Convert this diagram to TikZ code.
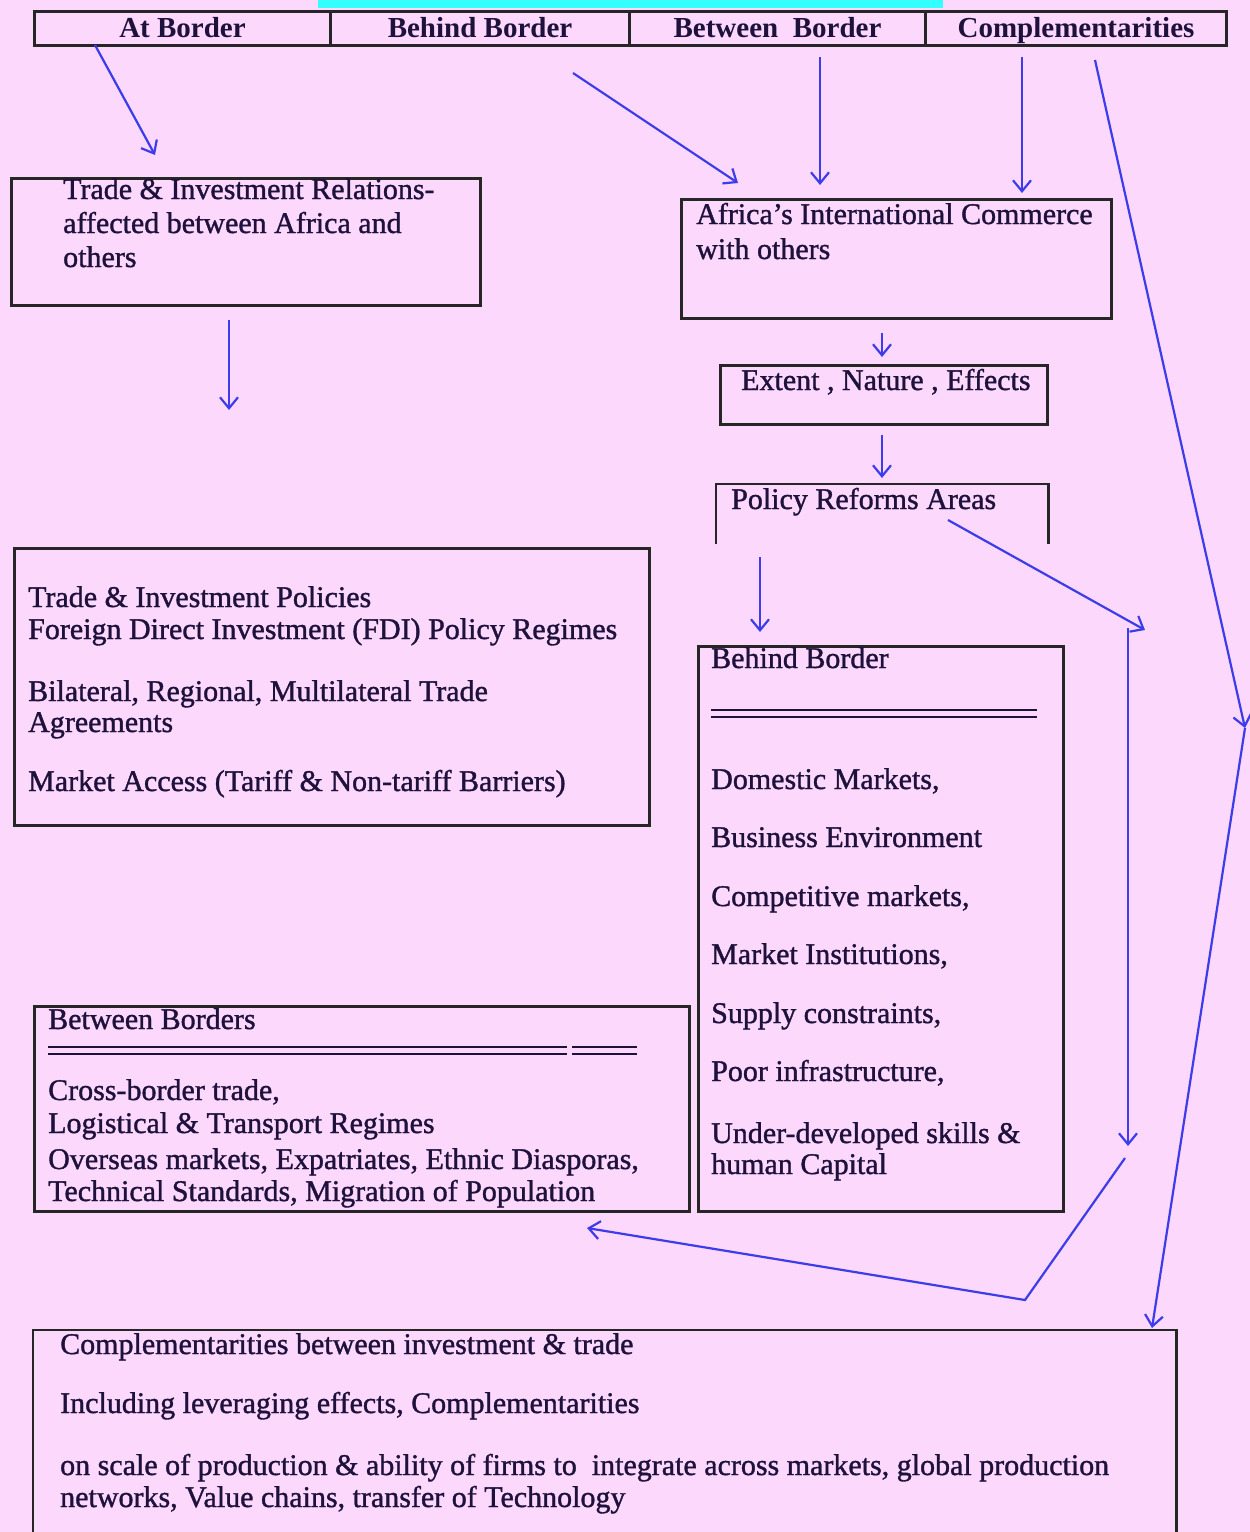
\documentclass[tikz,border=0pt]{standalone}
\usepackage{fontspec}
\setmainfont{Liberation Serif}
\newfontfamily\inkfont{Liberation Serif}[FakeBold=1.2]
\usetikzlibrary{arrows.meta}
\definecolor{bg}{RGB}{252,216,252}
\definecolor{ink}{RGB}{30,18,60}
\definecolor{arr}{RGB}{60,60,235}
\definecolor{cyanbar}{RGB}{51,255,255}
\begin{document}
\begin{tikzpicture}[x=1pt,y=-1pt,
 boxs/.style={draw=black!85, line width=2.5pt, inner sep=0pt, anchor=north west},
 txt/.style={anchor=base west, inner sep=0pt, text=ink, font=\inkfont\fontsize{30}{36}\selectfont},
 hdr/.style={draw=black!85, line width=3pt, inner sep=0pt, minimum height=34pt, text height=21pt, text depth=4pt, anchor=north west, font=\bfseries\fontsize{29}{34}\selectfont, text=ink},
 conn/.style={draw=arr, line width=2.2pt, -{Straight Barb[length=11pt,width=18pt]}},
 dline/.style={draw=ink, line width=2pt}
]
\useasboundingbox[fill=bg] (0,0) rectangle (1250,1532);
\fill[cyanbar] (318,0) rectangle (943,8);

% header
\node[hdr, minimum width=296pt] (hA) at (33,10) {At Border};
\node[hdr, minimum width=299pt] (hB) at (329,10) {Behind Border};
\node[hdr, minimum width=296pt] (hC) at (628,10) {Between\ \ Border};
\node[hdr, minimum width=301pt] (hD) at (924,10) {Complementarities};

% box 1
\node[boxs, minimum width=469pt, minimum height=127pt] (b1) at (10,177) {};
\node[txt] (b1a) at (63,199) {Trade \& Investment Relations-};
\node[txt] (b1b) at (63,233) {affected between Africa and};
\node[txt] (b1c) at (63,267) {others};

% box 2
\node[boxs, minimum width=430pt, minimum height=119pt] (b2) at (680,198) {};
\node[txt] (b2a) at (696,224) {Africa’s International Commerce};
\node[txt] (b2b) at (696,259) {with others};

% box 3
\node[boxs, minimum width=327pt, minimum height=59pt] (b3) at (719,364) {};
\node[txt] (b3a) at (741,390) {Extent , Nature , Effects};

% box 4 (open bottom)
\node[inner sep=0pt, minimum width=332pt, minimum height=60pt, anchor=north west] (b4) at (716,484) {};
\draw[draw=black!85, line width=2.5pt] (b4.south west) -- (b4.north west) -- (b4.north east) -- (b4.south east);
\node[txt] (b4a) at (731,509) {Policy Reforms Areas};

% box 5
\node[boxs, minimum width=635pt, minimum height=277pt] (b5) at (13,547) {};
\node[txt] (b5a) at (28,607) {Trade \& Investment Policies};
\node[txt] (b5b) at (28,639) {Foreign Direct Investment (FDI) Policy Regimes};
\node[txt] (b5c) at (28,701) {Bilateral, Regional, Multilateral Trade};
\node[txt] (b5d) at (28,732) {Agreements};
\node[txt] (b5e) at (28,791) {Market Access (Tariff \& Non-tariff Barriers)};

% box 6
\node[boxs, minimum width=365pt, minimum height=565pt] (b6) at (697,645) {};
\node[txt] (b6a) at (711,668) {Behind Border};
\draw[dline] (711,710) -- (1037,710);
\draw[dline] (711,717) -- (1037,717);
\node[txt] (b6b) at (711,789) {Domestic Markets,};
\node[txt] (b6c) at (711,847) {Business Environment};
\node[txt] (b6d) at (711,906) {Competitive markets,};
\node[txt] (b6e) at (711,964) {Market Institutions,};
\node[txt] (b6f) at (711,1023) {Supply constraints,};
\node[txt] (b6g) at (711,1081) {Poor infrastructure,};
\node[txt] (b6h) at (711,1143) {Under-developed skills \&};
\node[txt] (b6i) at (711,1174) {human Capital};

% box 7
\node[boxs, minimum width=655pt, minimum height=205pt] (b7) at (33,1005) {};
\node[txt] (b7a) at (48,1029) {Between Borders};
\draw[dline] (48,1047) -- (567,1047) (572,1047) -- (637,1047);
\draw[dline] (48,1054) -- (567,1054) (572,1054) -- (637,1054);
\node[txt] (b7b) at (48,1100) {Cross-border trade,};
\node[txt] (b7c) at (48,1133) {Logistical \& Transport Regimes};
\node[txt] (b7d) at (48,1169) {Overseas markets, Expatriates, Ethnic Diasporas,};
\node[txt] (b7e) at (48,1201) {Technical Standards, Migration of Population};

% box 8 (runs off the bottom)
\node[inner sep=0pt, minimum width=1143pt, minimum height=210pt, anchor=north west] (b8) at (33,1330) {};
\draw[draw=black!85, line width=2.5pt] (b8.south west) -- (b8.north west) -- (b8.north east) -- (b8.south east);
\node[txt] (b8a) at (60,1354) {Complementarities between investment \& trade};
\node[txt] (b8b) at (60,1413) {Including leveraging effects, Complementarities};
\node[txt] (b8c) at (60,1475) {on scale of production \& ability of firms to\ \ integrate across markets, global production};
\node[txt] (b8d) at (60,1507) {networks, Value chains, transfer of Technology};

% connector end points
\coordinate (p1s) at (95,45);   \coordinate (p1e) at (155,155);
\coordinate (p2s) at (573,73);  \coordinate (p2e) at (738,183);
\coordinate (p3s) at (820,57);  \coordinate (p3e) at (820,185);
\coordinate (p4s) at (1022,57); \coordinate (p4e) at (1022,193);
\coordinate (p5s) at (1095,60); \coordinate (p5m) at (1245,728); \coordinate (p5e) at (1152,1328);
\coordinate (p7s) at (229,320); \coordinate (p7e) at (229,410);
\coordinate (p8s) at (882,333); \coordinate (p8e) at (882,357);
\coordinate (p9s) at (882,435); \coordinate (p9e) at (882,478);
\coordinate (p10s) at (760,557); \coordinate (p10e) at (760,632);
\coordinate (p11s) at (948,520); \coordinate (p11e) at (1145,630);
\coordinate (p12s) at (1128,628); \coordinate (p12e) at (1128,1146);
\coordinate (p13s) at (1125,1158); \coordinate (p13m) at (1025,1300); \coordinate (p13e) at (587,1228);

\draw[conn] (p1s) -- (p1e);
\draw[conn] (p2s) -- (p2e);
\draw[conn] (p3s) -- (p3e);
\draw[conn] (p4s) -- (p4e);
\draw[conn] (p5s) -- (p5m);
\draw[conn] (p5m) -- (p5e);
\draw[conn] (p7s) -- (p7e);
\draw[conn] (p8s) -- (p8e);
\draw[conn] (p9s) -- (p9e);
\draw[conn] (p10s) -- (p10e);
\draw[conn] (p11s) -- (p11e);
\draw[conn] (p12s) -- (p12e);
\draw[conn] (p13s) -- (p13m) -- (p13e);
\end{tikzpicture}
\end{document}
